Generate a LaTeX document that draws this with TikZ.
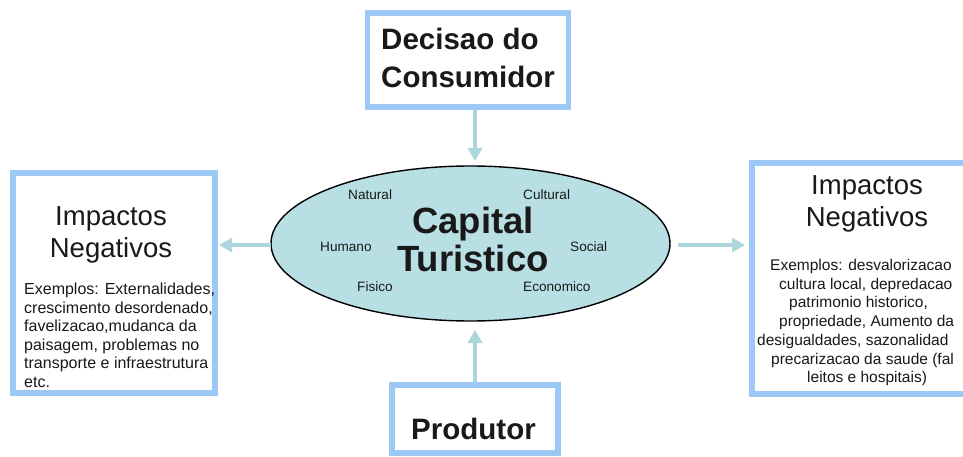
\documentclass[tikz,border=0pt]{standalone}
\usepackage{fontspec}
\setmainfont{Liberation Sans}
\usetikzlibrary{shapes.geometric,arrows.meta}
\definecolor{boxblue}{RGB}{155,200,245}
\definecolor{arrowc}{RGB}{172,214,220}
\definecolor{ellfill}{RGB}{184,223,228}
\definecolor{txt}{RGB}{25,25,25}
\tikzset{
  bx/.style={draw=boxblue, line width=5.5pt, fill=white, rectangle, inner sep=0pt},
  conn/.style={draw=arrowc, line width=4pt, -{Triangle[width=14pt,length=13pt]}},
  big/.style={font=\fontsize{29.5}{36}\selectfont\bfseries, text=txt, inner sep=0pt},
  title/.style={font=\fontsize{27.5}{32}\selectfont, text=txt, inner sep=0pt},
  body/.style={font=\fontsize{16}{18.5}\selectfont, text=txt, inner sep=0pt, anchor=base west},
  rbody/.style={font=\fontsize{15.5}{18.5}\selectfont, text=txt, inner sep=0pt, anchor=base west},
  small/.style={font=\fontsize{13.6}{16}\selectfont, text=txt, inner sep=0pt, anchor=base west},
}
\begin{document}
\begin{tikzpicture}[x=1pt,y=-1pt]
\useasboundingbox (0,0) rectangle (963,457);
\clip (0,0) rectangle (963,457);
\fill[white] (0,0) rectangle (963,457);

% boxes
\node[bx, minimum width=201pt, minimum height=94pt] (dec) at (468,60) {};
\node[bx, minimum width=166pt, minimum height=68pt] (prod) at (475,419) {};
\node[bx, minimum width=202pt, minimum height=220pt] (left) at (114,283) {};
\node[bx, minimum width=232pt, minimum height=231pt] (right) at (868,278.5) {};

% ellipse
\node[ellipse, draw=black, line width=1.4pt, fill=ellfill, minimum width=399pt, minimum height=155pt, inner sep=0pt] (cap) at (470.5,243.5) {};

% connectors
\coordinate (dtop) at (475,110);
\coordinate (dend) at (475,161);
\draw[conn] (dtop) -- (dend);
\coordinate (ptop) at (475,382);
\coordinate (pend) at (475,330);
\draw[conn] (ptop) -- (pend);
\coordinate (lstart) at (271,245);
\coordinate (lend) at (219,245);
\draw[conn] (lstart) -- (lend);
\coordinate (rstart) at (678,245);
\coordinate (rend) at (745,245);
\draw[conn] (rstart) -- (rend);

% texts
\node[big, anchor=base west] (d1) at (381,50) {Decisao do};
\node[big, anchor=base west] (d2) at (381,88) {Consumidor};
\node[big, anchor=base west] (p1) at (411,439) {Produtor};

\node[font=\fontsize{36.5}{38}\selectfont\bfseries, text=txt, inner sep=0pt, align=center, anchor=base] (c1) at (473,271) {Capital\\Turistico};

\node[small] (n1) at (348,200) {Natural};
\node[small] (n2) at (523,200) {Cultural};
\node[small] (n3) at (320,251.5) {Humano};
\node[small] (n4) at (570,251.5) {Social};
\node[small] (n5) at (357,291.5) {Fisico};
\node[small] (n6) at (523,291.5) {Economico};

\node[title, anchor=base] (lt1) at (111,225) {Impactos};
\node[title, anchor=base] (lt2) at (111,257) {Negativos};
\node[body] (lb1) at (24,294.5) {Exemplos: Externalidades,};
\node[body] (lb2) at (24,313) {crescimento desordenado,};
\node[body] (lb3) at (24,331.5) {favelizacao,mudanca da};
\node[body] (lb4) at (24,350) {paisagem, problemas no};
\node[body] (lb5) at (24,368.5) {transporte e infraestrutura};
\node[body] (lb6) at (24,387) {etc.};

\node[title, anchor=base] (rt1) at (867,195) {Impactos};
\node[title, anchor=base] (rt2) at (867,226) {Negativos};
\node[rbody] (rb1) at (770,270) {Exemplos: desvalorizacao};
\node[rbody] (rb2) at (779,289) {cultura local, depredacao};
\node[rbody] (rb3) at (789,307) {patrimonio historico,};
\node[rbody] (rb4) at (779,326) {propriedade, Aumento da};
\node[rbody] (rb5) at (757,345) {desigualdades, sazonalidad};
\node[rbody] (rb6) at (771,364) {precarizacao da saude (fal};
\node[rbody] (rb7) at (807,382) {leitos e hospitais)};
\end{tikzpicture}
\end{document}
